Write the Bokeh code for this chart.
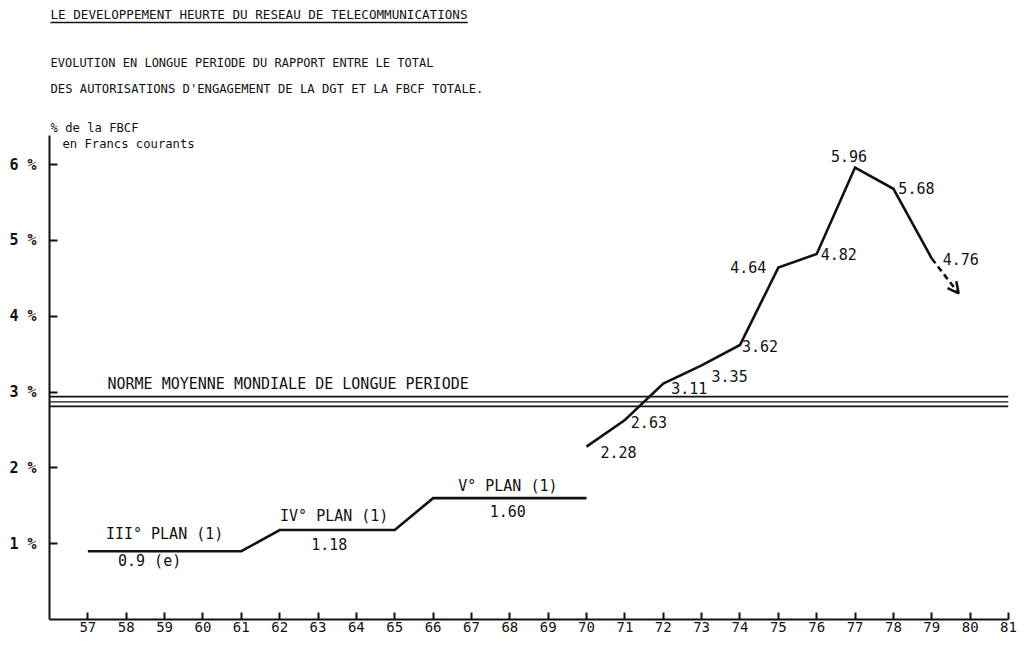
from bokeh.plotting import figure
from bokeh.models import ColumnDataSource, FixedTicker, Arrow, OpenHead, Range1d
from bokeh.core.properties import value
from bokeh.embed import file_html
from bokeh.resources import INLINE

# ---------------- data ----------------
title_text = "LE DEVELOPPEMENT HEURTE DU RESEAU DE TELECOMMUNICATIONS"
subtitle_1 = "EVOLUTION EN LONGUE PERIODE DU RAPPORT ENTRE LE TOTAL"
subtitle_2 = "DES AUTORISATIONS D'ENGAGEMENT DE LA DGT ET LA FBCF TOTALE."
unit_1 = "% de la FBCF"
unit_2 = "en Francs courants"

plan_names = ["III° PLAN (1)", "IV° PLAN (1)", "V° PLAN (1)"]
plan_start = [57, 62, 66]
plan_end = [61, 65, 70]
plan_value = [0.90, 1.18, 1.60]
plan_value_labels = ["0.9 (e)", "1.18", "1.60"]

years = [70, 71, 72, 73, 74, 75, 76, 77, 78, 79]
ratio = [2.28, 2.63, 3.11, 3.35, 3.62, 4.64, 4.82, 5.96, 5.68, 4.76]
ratio_labels = ["2.28", "2.63", "3.11", "3.35", "3.62", "4.64", "4.82", "5.96", "5.68", "4.76"]
trend_end_year = 79.7
trend_end_value = 4.30

norm_levels = [2.94, 2.87, 2.81]
norm_label = "NORME MOYENNE MONDIALE DE LONGUE PERIODE"

x_ticks = list(range(57, 82))
x_tick_labels = [str(v) for v in x_ticks]
y_ticks = [1, 2, 3, 4, 5, 6]
y_tick_labels = ["1 %", "2 %", "3 %", "4 %", "5 %", "6 %"]

# ---------------- layout / styling ----------------
W, H = 1017, 635             # fits the 1033x651 window with its 8px margin
X0, X1 = 56, 81
LEFT, RIGHT = 49, 1008       # frame edges (px)
B = 619.0                    # x-axis position (px)
K = (B - 164.0) / 6.0        # px per percent (6 % tick at 164 px)
Y_TOP = B / K                # frame reaches the top of the figure
Y_AXIS_TOP = (B - 135) / K
PX_PER_YEAR = (RIGHT - LEFT) / (X1 - X0)

MONO = value("DejaVu Sans Mono")
INK = "#111111"

def ydat(py):
    return (B - py) / K

def xdat(px):
    return X0 + (px - LEFT) / PX_PER_YEAR

ratio_dx = [32, 24, 26, 28, 20, -30, 22, -6, 23, 29]
ratio_dy = [5, 2, 4, 11, 1, -1, 0, -12, -1, 0]
plan_name_dx = [0, -3, -2]
plan_name_dy = [-17, -14, -12]
plan_val_dx = [-15, -8, -2]
plan_val_dy = [10, 14, 13]
norm_widths = [1.8, 1.3, 1.8]

p = figure(width=W, height=H, x_range=Range1d(X0, X1), y_range=Range1d(0, Y_TOP),
           output_backend="svg", toolbar_location=None,
           min_border_left=LEFT, min_border_right=W - RIGHT,
           min_border_top=0, min_border_bottom=int(H - B))
p.outline_line_color = None
p.xgrid.visible = False
p.ygrid.visible = False
p.background_fill_color = "white"
p.border_fill_color = "white"

# axes
p.xaxis.ticker = FixedTicker(ticks=x_ticks)
p.xaxis.major_label_overrides = {v: s for v, s in zip(x_ticks, x_tick_labels)}
p.xaxis.major_tick_in = 7
p.xaxis.major_tick_out = 0
p.xaxis.minor_tick_line_color = None
p.xaxis.axis_line_width = 2
p.xaxis.major_tick_line_width = 2
p.xaxis.axis_line_color = INK
p.xaxis.major_tick_line_color = INK
p.xaxis.major_label_standoff = 2
p.xaxis.axis_label_standoff = 0
p.xaxis.major_label_text_font = "DejaVu Sans Mono"
p.xaxis.major_label_text_font_size = "14px"
p.xaxis.major_label_text_color = INK

p.yaxis.ticker = FixedTicker(ticks=y_ticks)
p.yaxis.bounds = (0, Y_AXIS_TOP)
p.yaxis.major_label_overrides = {v: s for v, s in zip(y_ticks, y_tick_labels)}
p.yaxis.major_tick_in = 8
p.yaxis.major_tick_out = 0
p.yaxis.minor_tick_line_color = None
p.yaxis.axis_line_width = 2
p.yaxis.major_tick_line_width = 2
p.yaxis.axis_line_color = INK
p.yaxis.major_tick_line_color = INK
p.yaxis.major_label_standoff = 13
p.yaxis.axis_label_standoff = 0
p.yaxis.major_label_text_font = "DejaVu Sans Mono"
p.yaxis.major_label_text_font_size = "15px"
p.yaxis.major_label_text_font_style = "bold"
p.yaxis.major_label_text_color = INK

# norm lines
norm_src = ColumnDataSource(dict(xs=[[X0, X1] for _ in norm_levels],
                                 ys=[[v, v] for v in norm_levels],
                                 w=norm_widths))
p.multi_line(xs="xs", ys="ys", line_width="w", line_color=INK, source=norm_src)
p.text(x=[X0], y=[norm_levels[0]], text=[norm_label], x_offset=58, y_offset=-13,
       text_font=MONO, text_font_size="15px", text_color=INK,
       text_align="left", text_baseline="middle")

# plan step line
step_x, step_y = [], []
for s, e, v in zip(plan_start, plan_end, plan_value):
    step_x += [s, e]
    step_y += [v, v]
p.line(step_x, step_y, line_width=2.6, line_color=INK, line_join="miter")

plan_mid = [(s + e) / 2 for s, e in zip(plan_start, plan_end)]
p.text(x=plan_mid, y=plan_value, text=plan_names, x_offset=plan_name_dx, y_offset=plan_name_dy,
       text_font=MONO, text_font_size="15px", text_color=INK,
       text_align="center", text_baseline="middle")
p.text(x=plan_mid, y=plan_value, text=plan_value_labels, x_offset=plan_val_dx, y_offset=plan_val_dy,
       text_font=MONO, text_font_size="15px", text_color=INK,
       text_align="center", text_baseline="middle")

# annual series
p.line(years, ratio, line_width=2.6, line_color=INK, line_join="miter")
lab_src = ColumnDataSource(dict(x=years, y=ratio, t=ratio_labels, dx=ratio_dx, dy=ratio_dy))
p.text(x="x", y="y", text="t", x_offset="dx", y_offset="dy", source=lab_src,
       text_font=MONO, text_font_size="15px", text_color=INK,
       text_align="center", text_baseline="middle")

# dashed trend arrow
p.add_layout(Arrow(end=OpenHead(size=11, line_width=2.6, line_color=INK),
                   x_start=years[-1], y_start=ratio[-1],
                   x_end=trend_end_year, y_end=trend_end_value,
                   line_width=2.6, line_color=INK, line_dash="6 4"))

# headings (inside the tall frame, above the axis bounds)
head_src = ColumnDataSource(dict(
    x=[xdat(50), xdat(50), xdat(50), xdat(50), xdat(62)],
    y=[ydat(14), ydat(62), ydat(88), ydat(127), ydat(143)],
    t=[title_text, subtitle_1, subtitle_2, unit_1, unit_2],
    fs=["12.6px", "12px", "12.2px", "12.2px", "12.2px"],
))
p.text(x="x", y="y", text="t", text_font_size="fs", source=head_src,
       text_font=MONO, text_color=INK, text_align="left", text_baseline="middle")

# underline of the main title (length follows the text length)
char_w = 0.602 * 12.6
p.segment(x0=[xdat(50)], y0=[ydat(22)],
          x1=[xdat(50 + char_w * len(title_text))], y1=[ydat(22)],
          line_width=1.3, line_color=INK)

open("out.html", "w").write(file_html(p, INLINE))
